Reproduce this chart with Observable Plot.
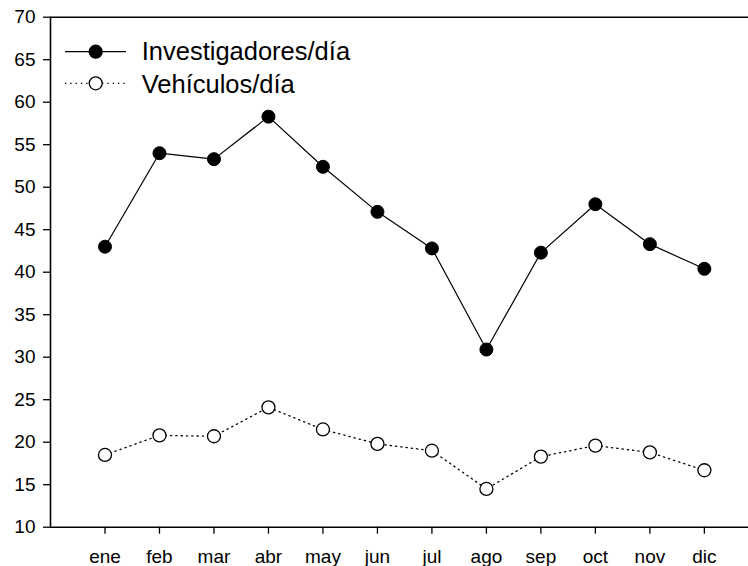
<!DOCTYPE html>
<html>
<head>
<meta charset="utf-8">
<script src="https://cdn.jsdelivr.net/npm/d3@7"></script>
<script src="https://cdn.jsdelivr.net/npm/@observablehq/plot@0.6"></script>
<style>
  html, body { margin: 0; padding: 0; background: white; }
  #chart { width: 748px; height: 566px; }
</style>
</head>
<body>
<div id="chart"></div>
<script>
const months = ["ene", "feb", "mar", "abr", "may", "jun", "jul", "ago", "sep", "oct", "nov", "dic"];
const investigadores = [43.0, 54.0, 53.3, 58.3, 52.4, 47.1, 42.8, 30.9, 42.3, 48.0, 43.3, 40.4];
const vehiculos = [18.5, 20.8, 20.7, 24.1, 21.5, 19.8, 19.0, 14.5, 18.3, 19.6, 18.8, 16.7];
const seriesNames = ["Investigadores/día", "Vehículos/día"];
const yTicks = d3.range(10, 71, 5);

const invData = months.map((m, i) => ({ m: i + 1, v: investigadores[i] }));
const vehData = months.map((m, i) => ({ m: i + 1, v: vehiculos[i] }));

const font = "'Liberation Sans', Arial, Helvetica, sans-serif";

const chart = Plot.plot({
  width: 748,
  height: 566,
  marginTop: 16.7,
  marginBottom: 39.3,
  marginLeft: 50,
  marginRight: 0,
  style: { fontFamily: font, fontSize: "19px", background: "white", color: "black", overflow: "visible" },
  x: { type: "linear", domain: [0, 12.81] },
  y: { domain: [10, 70] },
  marks: [
    Plot.axisY({ ticks: yTicks, tickSize: 7, tickPadding: 8, tickFormat: d => String(d), label: null, fontSize: 19, strokeWidth: 1.3 }),
    Plot.axisX({ ticks: d3.range(1, 13), tickSize: 7, tickPadding: 15, tickFormat: i => months[i - 1], label: null, fontSize: 19, strokeWidth: 1.3 }),
    Plot.ruleY([70], { stroke: "black", strokeWidth: 1.6 }),
    Plot.ruleY([10], { stroke: "black", strokeWidth: 1.6 }),
    Plot.ruleX([0], { stroke: "black", strokeWidth: 1.6 }),
    Plot.line(vehData, { x: "m", y: "v", stroke: "black", strokeWidth: 1.3, strokeDasharray: "1.3,4" }),
    Plot.line(invData, { x: "m", y: "v", stroke: "black", strokeWidth: 1.2 }),
    Plot.dot(vehData, { x: "m", y: "v", r: 6.5, fill: "white", stroke: "black", strokeWidth: 1.3 }),
    Plot.dot(invData, { x: "m", y: "v", r: 6.5, fill: "black", stroke: "black", strokeWidth: 1 })
  ]
});

document.getElementById("chart").appendChild(chart);

// Legend
const legendItems = [
  { name: seriesNames[0], fill: "black", dash: null, ly: 51.7, ty: 60 },
  { name: seriesNames[1], fill: "white", dash: "1.3,4", ly: 83.3, ty: 92.5 }
];
const lg = d3.select(chart).append("g").attr("class", "legend").attr("text-anchor", "start");
legendItems.forEach(it => {
  lg.append("line")
    .attr("x1", 65).attr("x2", 126).attr("y1", it.ly).attr("y2", it.ly)
    .attr("stroke", "black").attr("stroke-width", 1.3)
    .attr("stroke-dasharray", it.dash);
  lg.append("circle")
    .attr("cx", 95.7).attr("cy", it.ly).attr("r", 6.5)
    .attr("fill", it.fill).attr("stroke", "black").attr("stroke-width", 1.3);
  lg.append("text")
    .attr("x", 141.7).attr("y", it.ty)
    .attr("text-anchor", "start")
    .attr("font-family", font).attr("font-size", 25.5)
    .attr("fill", "black")
    .text(it.name);
});
</script>
</body>
</html>
